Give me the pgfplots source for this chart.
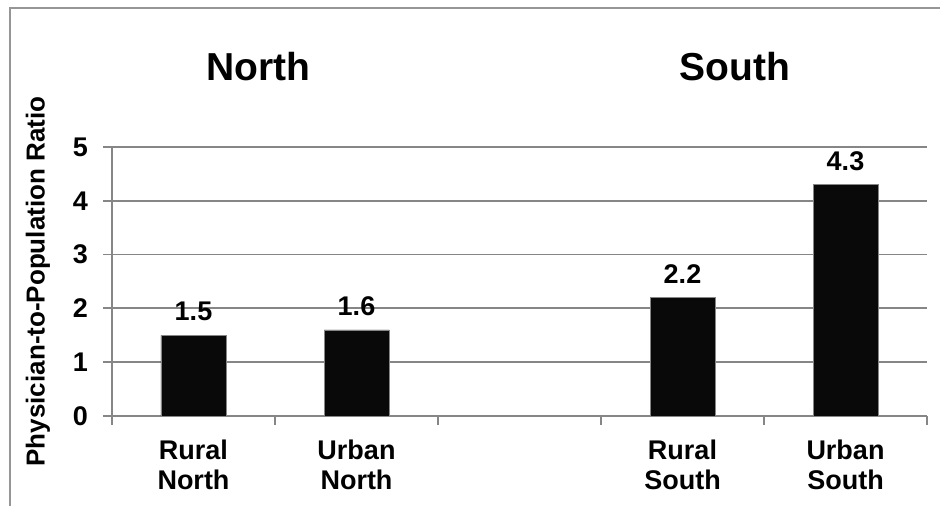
\documentclass[border=0pt]{standalone}
\usepackage{fontspec}
\setmainfont{Liberation Sans}
\usepackage{pgfplots}
\pgfplotsset{compat=1.18}
\definecolor{gridgray}{RGB}{134,134,134}
\definecolor{boxgray}{RGB}{150,150,150}
\definecolor{barblack}{RGB}{8,9,8}
\begin{document}
\begin{tikzpicture}[x=0.5pt,y=0.5pt]
\useasboundingbox (0,0) rectangle (940,506);
\draw[boxgray, line width=1.2pt] (10,-20) -- (10,498) -- (960,498);
\begin{axis}[
  at={(56pt,45pt)}, anchor=south west,
  scale only axis, width=407.5pt, height=134.5pt,
  xmin=-0.5, xmax=4.5, ymin=0, ymax=5,
  axis x line*=bottom, axis y line*=left,
  axis line style={gridgray, line width=0.9pt},
  xtick={0,1,3,4},
  xticklabels={Rural\\North, Urban\\North, Rural\\South, Urban\\South},
  x tick label style={align=center, font=\fontsize{13.5}{15}\selectfont\bfseries, yshift=-4pt},
  major x tick style={draw=none},
  minor xtick={-0.5,0.5,1.5,2.5,3.5,4.5},
  minor x tick style={gridgray, line width=0.9pt},
  minor tick length=4.5pt,
  ytick={0,1,2,3,4,5},
  major tick length=4.5pt,
  tick align=outside,
  y tick style={gridgray, line width=0.9pt},
  /pgf/number format/assume math mode=true,
  y tick label style={font=\fontsize{13.5}{15}\selectfont\bfseries, xshift=-4pt},
  ymajorgrids,
  grid style={gridgray, line width=0.9pt},
  ylabel={Physician-to-Population Ratio},
  ylabel style={font=\fontsize{13}{15}\selectfont\bfseries, at={(axis description cs:-0.091,0.5)}, anchor=center, rotate=0},
  ybar, bar width=32.5pt,
  nodes near coords,
  nodes near coords style={font=\fontsize{13.5}{15}\selectfont\bfseries, yshift=3.5pt, /pgf/number format/.cd, fixed, fixed zerofill, precision=1, assume math mode=true},
  clip=false,
]
\addplot[fill=barblack, draw=gridgray, line width=0.4pt] coordinates {(0,1.5) (1,1.6) (3,2.2) (4,4.3)};
\end{axis}
\node[font=\fontsize{19.5}{22}\selectfont\bfseries] at (258,439) {North};
\node[font=\fontsize{19.5}{22}\selectfont\bfseries] at (735,439) {South};
\end{tikzpicture}
\end{document}
